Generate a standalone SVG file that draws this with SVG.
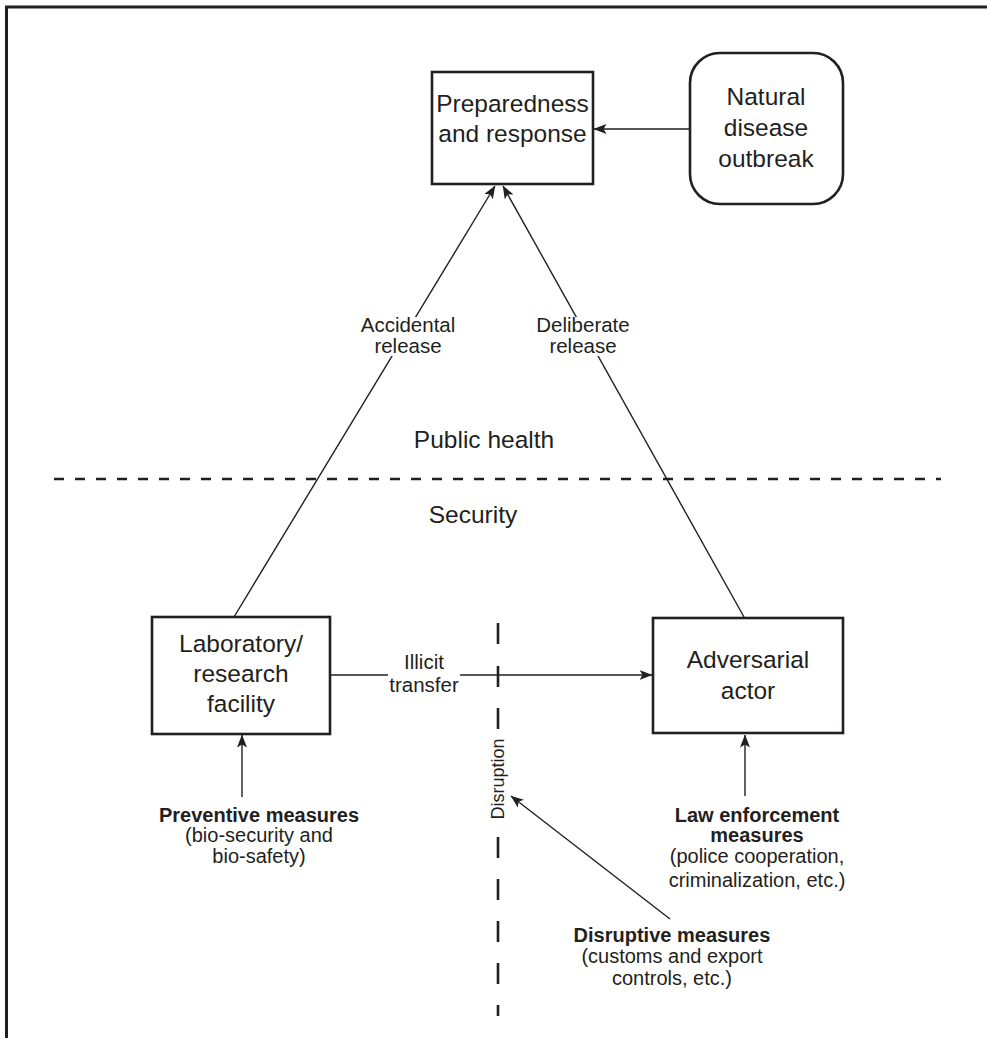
<svg xmlns="http://www.w3.org/2000/svg" width="987" height="1038" viewBox="0 0 987 1038">
<defs>
<style>
.box{fill:#fff;stroke:#231f20;stroke-width:2.6}
.conn{fill:none;stroke:#231f20;stroke-width:1.4}
.t{font-family:"Liberation Sans",Arial,sans-serif;fill:#231f20;text-anchor:middle}
.big{font-size:24.5px}
.mid{font-size:20.5px}
.sm{font-size:20px}
.b{font-weight:bold}
.dash{fill:none;stroke:#231f20;stroke-width:2.6}
</style>
<marker id="ah" markerUnits="userSpaceOnUse" viewBox="0 0 13 10" refX="12.5" refY="5" markerWidth="13" markerHeight="10" orient="auto">
<path d="M0,0 L13,5 L0,10 L3,5 z" fill="#231f20"/>
</marker>
</defs>
<rect x="0" y="0" width="987" height="1038" fill="#fff"/>
<path d="M6.5,1038 V7 H987" fill="none" stroke="#231f20" stroke-width="3"/>

<g id="dividers">
<line x1="54" y1="479" x2="941" y2="479" class="dash" stroke-dasharray="10 11"/>
<path class="dash" d="M498,623 V644 M498,666 V687 M498,708 V729 M498,837 V858 M498,879 V900 M498,921 V942 M498,963 V984 M498,1005 V1016"/>
</g>

<g id="connectors">
<line class="conn" x1="234" y1="617" x2="495" y2="186" marker-end="url(#ah)"/>
<line class="conn" x1="744" y1="617" x2="503" y2="186" marker-end="url(#ah)"/>
<line class="conn" x1="690" y1="129" x2="594" y2="129" marker-end="url(#ah)"/>
<line class="conn" x1="330" y1="675" x2="652" y2="675" marker-end="url(#ah)"/>
<line class="conn" x1="242" y1="797" x2="242" y2="735" marker-end="url(#ah)"/>
<line class="conn" x1="745" y1="796" x2="745" y2="735" marker-end="url(#ah)"/>
<line class="conn" x1="670" y1="919" x2="511" y2="796" marker-end="url(#ah)"/>
</g>

<g id="connector-labels">
<rect x="358" y="317" width="100" height="39" fill="#fff"/>
<text class="t mid" x="408" y="332">Accidental</text>
<text class="t mid" x="408" y="353">release</text>
<rect x="534" y="317" width="100" height="39" fill="#fff"/>
<text class="t mid" x="583" y="332">Deliberate</text>
<text class="t mid" x="583" y="353">release</text>
<rect x="388" y="652" width="72" height="44" fill="#fff"/>
<text class="t mid" x="424" y="669">Illicit</text>
<text class="t mid" x="424" y="692">transfer</text>
<text class="t" style="font-size:18px" transform="translate(504,779) rotate(-90)">Disruption</text>
</g>

<g id="zone-labels">
<text class="t big" x="484" y="448">Public health</text>
<text class="t big" x="473" y="523">Security</text>
</g>

<g id="preparedness">
<rect class="box" x="432" y="72" width="161" height="112"/>
<text class="t big" x="512.5" y="112">Preparedness</text>
<text class="t big" x="512.5" y="142">and response</text>
</g>

<g id="natural">
<rect class="box" x="690" y="53" width="153" height="151" rx="30" ry="30"/>
<text class="t big" x="766" y="105">Natural</text>
<text class="t big" x="766" y="136">disease</text>
<text class="t big" x="766" y="167">outbreak</text>
</g>

<g id="laboratory">
<rect class="box" x="152" y="617" width="178" height="117"/>
<text class="t big" x="241" y="652">Laboratory/</text>
<text class="t big" x="241" y="682">research</text>
<text class="t big" x="241" y="712">facility</text>
</g>

<g id="adversarial">
<rect class="box" x="653" y="618" width="190" height="115"/>
<text class="t big" x="748" y="668">Adversarial</text>
<text class="t big" x="748" y="699">actor</text>
</g>

<g id="preventive">
<text class="t sm b" x="259" y="822">Preventive measures</text>
<text class="t sm" x="259" y="842">(bio-security and</text>
<text class="t sm" x="259" y="863">bio-safety)</text>
</g>

<g id="law">
<text class="t sm b" x="757" y="822">Law enforcement</text>
<text class="t sm b" x="757" y="842">measures</text>
<text class="t sm" x="757" y="863">(police cooperation,</text>
<text class="t sm" x="757" y="887">criminalization, etc.)</text>
</g>

<g id="disruptive">
<text class="t sm b" x="672" y="942">Disruptive measures</text>
<text class="t sm" x="672" y="963">(customs and export</text>
<text class="t sm" x="672" y="985">controls, etc.)</text>
</g>
</svg>
